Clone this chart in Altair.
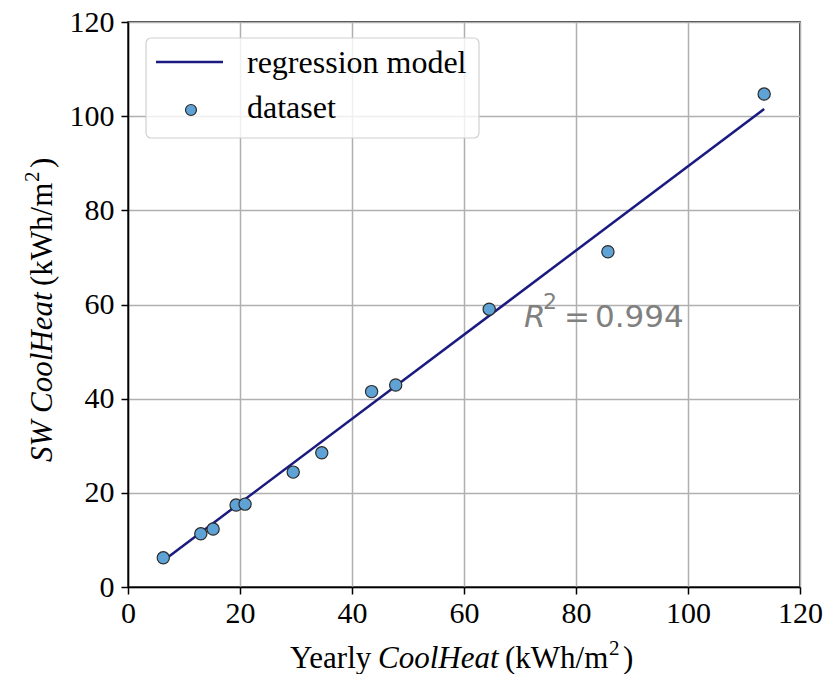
import altair as alt
import pandas as pd

# ---- data ----
yearly_coolheat = [6.3, 13.0, 15.2, 19.3, 20.9, 29.5, 34.6, 43.5, 47.8, 64.5, 85.7, 113.6]
sw_coolheat = [6.2, 11.3, 12.3, 17.4, 17.6, 24.4, 28.5, 41.5, 42.9, 59.0, 71.2, 104.7]
model_x = [6.3, 113.6]
model_y = [5.6, 101.5]
r2_anchor_x = [70.7]
r2_anchor_y = [55.2]
r2_parts = ["R", "2", "=", "0.994"]
x_title_parts = ["Yearly", "CoolHeat", "(kWh/m", "2", ")"]
y_title_parts = ["SW", "CoolHeat", "(kWh/m", "2", ")"]
legend_labels = ["regression model", "dataset"]
ticks = [0, 20, 40, 60, 80, 100, 120]

SERIF = "Liberation Serif"
pts = pd.DataFrame({"x": yearly_coolheat, "y": sw_coolheat})
line = pd.DataFrame({"x": model_x, "y": model_y})
ann = pd.DataFrame({"x": r2_anchor_x, "y": r2_anchor_y})

xs = alt.Scale(domain=[0, 120], nice=False)
ys = alt.Scale(domain=[0, 120], nice=False)
common = dict(values=ticks, title=None, labelFontSize=30, labelFont=SERIF,
              labelColor="black", tickSize=7, tickWidth=1.5, tickColor="black",
              domainColor="black", domainWidth=1.5,
              grid=True, gridColor="#b0b0b0", gridWidth=1.5, labelFlush=False)
xa = alt.Axis(labelPadding=4, **common)
ya = alt.Axis(labelPadding=7, **common)

reg = alt.Chart(line).mark_line(color="#1a1a80", strokeWidth=2.5).encode(
    x=alt.X("x:Q", scale=xs, axis=xa), y=alt.Y("y:Q", scale=ys, axis=ya))
dots = alt.Chart(pts).mark_circle(size=150, color="#5fa2d5", stroke="#2b2b2b",
                                  strokeWidth=1.2, opacity=1).encode(
    x=alt.X("x:Q", scale=xs), y=alt.Y("y:Q", scale=ys))


def ann_text(s, dx, dy, size, style):
    return alt.Chart(ann.assign(t=s)).mark_text(
        align="left", baseline="alphabetic", font="DejaVu Sans", fontSize=size,
        fontStyle=style, color="#808080", dx=dx, dy=dy).encode(
        x=alt.X("x:Q", scale=xs), y=alt.Y("y:Q", scale=ys), text="t:N")


r2 = [ann_text(r2_parts[0], 0, 0, 31, "italic"),
      ann_text(r2_parts[1], 19, -18, 22, "normal"),
      ann_text(r2_parts[2], 40, 0, 31, "normal"),
      ann_text(r2_parts[3], 71, 0, 31, "normal")]


def txt(s, x, y, size, style="normal", angle=0):
    return alt.Chart(pd.DataFrame({"t": [s]})).mark_text(
        align="left", baseline="alphabetic", font=SERIF, fontSize=size,
        fontStyle=style, angle=angle, color="black").encode(
        x=alt.value(x), y=alt.value(y), text="t:N")


XB = 646
xt = [txt(x_title_parts[0], 162, XB, 31),
      txt(x_title_parts[1], 250, XB, 31, "italic"),
      txt(x_title_parts[2], 377, XB, 31),
      txt(x_title_parts[3], 481, XB - 13, 21),
      txt(x_title_parts[4], 495, XB, 31)]
YB = -76
yt = [txt(y_title_parts[0], YB, 440, 31, "italic", 270),
      txt(y_title_parts[1], YB, 391, 31, "italic", 270),
      txt(y_title_parts[2], YB, 264, 31, "normal", 270),
      txt(y_title_parts[3], YB - 13, 160, 21, "normal", 270),
      txt(y_title_parts[4], YB, 146, 31, "normal", 270)]

one = pd.DataFrame({"k": [0]})
leg_box = alt.Chart(one).mark_rect(fill="white", fillOpacity=0.8, stroke="#d0d0d0",
                                   strokeWidth=1.2, cornerRadius=5).encode(
    x=alt.value(18), x2=alt.value(351), y=alt.value(16), y2=alt.value(116))
leg_line = alt.Chart(one).mark_rule(color="#1a1a80", strokeWidth=2.5).encode(
    x=alt.value(28), x2=alt.value(95), y=alt.value(40))
leg_dot = alt.Chart(one).mark_circle(size=120, color="#5fa2d5", stroke="#2b2b2b",
                                     strokeWidth=1.2, opacity=1).encode(
    x=alt.value(63), y=alt.value(88))
leg_t = [txt(legend_labels[0], 119, 51, 32), txt(legend_labels[1], 119, 96, 32)]

chart = alt.layer(reg, dots, *r2, *xt, *yt, leg_box, leg_line, leg_dot, *leg_t).properties(
    width=672, height=565,
    autosize=alt.AutoSizeParams(type="none"),
    padding={"left": 120, "top": 14, "right": 24, "bottom": 87},
).configure_view(stroke="black", strokeWidth=1.5)

chart.save("out.html", embed_options={"renderer": "svg", "actions": False})
